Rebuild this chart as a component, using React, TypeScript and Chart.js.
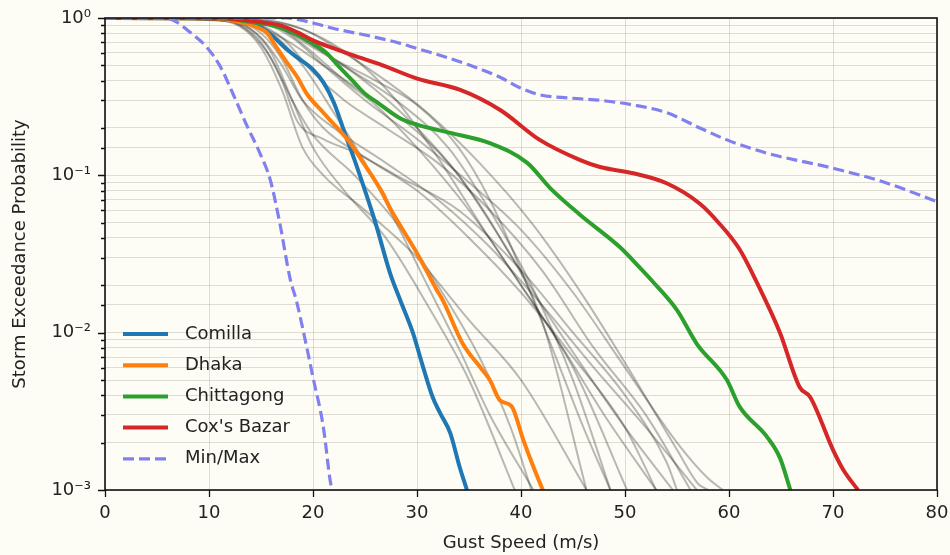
import React, { useEffect, useRef } from 'react';
import { Chart, registerables } from 'chart.js';

Chart.register(...registerables);

const FONT = "'DejaVu Sans', 'Liberation Sans', sans-serif";
const TEXT = '#222222';
const BG = '#fdfdf5';

// ---- data (gust speed m/s, exceedance probability) ----
const xTicks = [0, 10, 20, 30, 40, 50, 60, 70, 80];

const comillaSpeed = [0, 10, 12, 14.6, 16, 17.5, 18.5, 20, 21, 22, 23, 24, 25, 26, 27.4, 28.4, 29.6, 30.6, 31.5, 32.2, 33.2, 34.1, 34.8];
const comillaProb = [1, 0.995, 0.97, 0.9, 0.78, 0.63, 0.56, 0.47, 0.39, 0.29, 0.19, 0.125, 0.08, 0.05, 0.024, 0.016, 0.01, 0.006, 0.0039, 0.0031, 0.0023, 0.0014, 0.001];

const dhakaSpeed = [0, 10, 13, 14.5, 15.6, 16.5, 17.5, 18.5, 19.4, 21, 21.9, 23.6, 24.5, 26.7, 27.4, 30, 31.9, 32.5, 34.4, 36.1, 37, 38, 39.1, 40.2, 41.2, 42.1];
const dhakaProb = [1, 0.995, 0.94, 0.88, 0.8, 0.65, 0.52, 0.42, 0.33, 0.25, 0.215, 0.16, 0.13, 0.077, 0.062, 0.032, 0.0187, 0.016, 0.0085, 0.006, 0.005, 0.0037, 0.0034, 0.0021, 0.0014, 0.001];

const chittagongSpeed = [0, 11, 14.2, 16, 17.5, 19.5, 21.3, 22.5, 23.8, 25, 26.2, 28.4, 30, 33.2, 37, 40.6, 42.8, 45.7, 49.5, 51.4, 52.7, 55, 56.9, 59.8, 61, 63.6, 64.9, 65.9];
const chittagongProb = [1, 0.995, 0.94, 0.9, 0.84, 0.72, 0.6, 0.49, 0.4, 0.33, 0.29, 0.23, 0.21, 0.186, 0.16, 0.12, 0.083, 0.056, 0.035, 0.026, 0.021, 0.0139, 0.0085, 0.005, 0.0034, 0.0022, 0.0016, 0.001];

const coxsBazarSpeed = [0, 11, 13.3, 15, 16.8, 18.5, 20, 22, 23.8, 26.7, 30.1, 34.1, 38, 41.8, 45.7, 47.6, 50.8, 54, 57.2, 59, 61, 62.7, 64.9, 66.8, 67.8, 70, 71, 72.4];
const coxsBazarProb = [1, 0.998, 0.97, 0.94, 0.9, 0.81, 0.72, 0.64, 0.58, 0.5, 0.41, 0.35, 0.26, 0.168, 0.125, 0.113, 0.103, 0.089, 0.066, 0.05, 0.034, 0.0207, 0.01, 0.0045, 0.0039, 0.0018, 0.00134, 0.001];

const maxSpeed = [0, 17.5, 20, 21.9, 25.8, 28.4, 30, 32.2, 35.1, 38, 39.9, 41.8, 44.7, 47.6, 50.8, 54, 57.2, 59.8, 63.7, 70, 74.8, 80];
const maxProb = [1, 1, 0.93, 0.86, 0.76, 0.69, 0.64, 0.58, 0.5, 0.42, 0.36, 0.325, 0.31, 0.3, 0.28, 0.25, 0.2, 0.168, 0.138, 0.111, 0.091, 0.068];

const minSpeed = [0, 5.6, 6.8, 7.9, 9.8, 11.1, 12.3, 13.6, 14.9, 15.9, 16.8, 17.8, 18.4, 19.1, 20, 21, 21.7, 21.9];
const minProb = [1, 1, 0.95, 0.84, 0.65, 0.49, 0.33, 0.21, 0.138, 0.093, 0.05, 0.022, 0.016, 0.01, 0.0052, 0.0025, 0.0011, 0.001];

// other sites (grey curves): [speed, probability] pairs
const otherSiteCurves: [number, number][][] = [
  [[0, 1], [10, 0.98], [13, 0.9], [15, 0.7], [17, 0.4], [18.5, 0.22], [21, 0.17], [24, 0.14], [28, 0.1], [34, 0.06], [40, 0.025], [45, 0.01], [50, 0.004], [54, 0.0015], [55, 0.001]],
  [[0, 1], [10, 0.98], [13, 0.88], [15, 0.65], [17, 0.35], [19, 0.15], [21, 0.1], [25, 0.06], [30, 0.03], [35, 0.012], [40, 0.005], [46.3, 0.001]],
  [[0, 1], [11, 0.97], [14, 0.85], [16, 0.6], [18, 0.3], [20, 0.15], [23, 0.08], [27, 0.04], [31, 0.015], [35, 0.005], [39.4, 0.001]],
  [[0, 1], [12, 0.97], [15, 0.8], [17, 0.55], [19, 0.3], [21, 0.2], [25, 0.13], [30, 0.08], [35, 0.04], [40, 0.018], [45, 0.007], [50, 0.0025], [53, 0.001]],
  [[0, 1], [12, 0.98], [16, 0.8], [19, 0.5], [22, 0.25], [25, 0.12], [28, 0.05], [31, 0.02], [34, 0.008], [37, 0.003], [41.2, 0.001]],
  [[0, 1], [13, 0.98], [17, 0.85], [20, 0.6], [23, 0.4], [26, 0.28], [30, 0.15], [35, 0.06], [40, 0.02], [45, 0.006], [50.2, 0.001]],
  [[0, 1], [14, 0.97], [18, 0.8], [22, 0.55], [26, 0.35], [30, 0.2], [34, 0.1], [38, 0.04], [42, 0.015], [46, 0.006], [50, 0.0025], [54.6, 0.001]],
  [[0, 1], [14, 0.98], [19, 0.85], [24, 0.55], [28, 0.3], [32, 0.13], [36, 0.05], [40, 0.02], [44, 0.008], [48, 0.003], [53, 0.001]],
  [[0, 1], [13, 0.97], [17, 0.75], [21, 0.5], [25, 0.33], [30, 0.19], [34, 0.1], [38, 0.04], [42, 0.012], [46.3, 0.001]],
  [[0, 1], [14, 0.97], [17, 0.85], [20, 0.65], [24, 0.45], [28, 0.3], [33, 0.15], [37, 0.06], [41, 0.02], [45, 0.005], [48.6, 0.001]],
  [[0, 1], [13, 0.97], [17, 0.75], [20, 0.45], [23, 0.3], [27, 0.2], [32, 0.12], [37, 0.06], [42, 0.025], [47, 0.008], [52, 0.003], [56.3, 0.001]],
  [[0, 1], [12, 0.96], [15, 0.75], [17, 0.5], [19, 0.3], [22, 0.2], [27, 0.12], [32, 0.07], [37, 0.035], [42, 0.015], [47, 0.006], [52, 0.0025], [56.9, 0.001]],
  [[0, 1], [14, 0.97], [18, 0.75], [21, 0.5], [25, 0.3], [30, 0.17], [35, 0.09], [40, 0.045], [45, 0.018], [50, 0.006], [55, 0.002], [57.9, 0.0012], [59.4, 0.001]],
  [[0, 1], [15, 0.97], [19, 0.85], [23, 0.6], [27, 0.4], [31, 0.25], [36, 0.12], [41, 0.05], [46, 0.017], [51, 0.005], [55, 0.0018], [57, 0.0011], [58, 0.001]],
  [[0, 1], [12, 0.95], [14, 0.8], [16, 0.55], [18, 0.3], [20, 0.18], [24, 0.1], [28, 0.05], [32, 0.02], [36, 0.007], [39, 0.0025], [41, 0.001]],
  [[0, 1], [14, 0.97], [18, 0.8], [22, 0.55], [26, 0.4], [30, 0.28], [34, 0.15], [37, 0.07], [40, 0.025], [43, 0.008], [46, 0.0025], [48.6, 0.001]],
];

const legendItems = [
  { label: 'Comilla', color: '#1f77b4', dash: [] as number[] },
  { label: 'Dhaka', color: '#ff7f0e', dash: [] as number[] },
  { label: 'Chittagong', color: '#2ca02c', dash: [] as number[] },
  { label: "Cox's Bazar", color: '#d62728', dash: [] as number[] },
  { label: 'Min/Max', color: '#8080ee', dash: [11, 5] },
];

const pts = (xs: number[], ys: number[]) => xs.map((x, i) => ({ x, y: ys[i] }));
const isDecade = (v: number) => Math.abs(Math.log10(v) - Math.round(Math.log10(v))) < 1e-6;
const SUP: Record<string, string> = { '-': '⁻', '0': '⁰', '1': '¹', '2': '²', '3': '³', '4': '⁴' };
const decadeLabel = (v: number) => '10' + String(Math.round(Math.log10(v))).split('').map((c) => SUP[c] || c).join('');

const decorPlugin = {
  id: 'decor',
  beforeDraw(chart: any) {
    const { ctx, width, height } = chart;
    ctx.save();
    ctx.fillStyle = BG;
    ctx.fillRect(0, 0, width, height);
    ctx.restore();
  },
  afterDraw(chart: any) {
    const { ctx, chartArea: a, scales } = chart;
    ctx.save();
    // tick marks
    ctx.strokeStyle = '#111';
    ctx.lineWidth = 1.3;
    ctx.beginPath();
    scales.x.ticks.forEach((t: any) => {
      const px = Math.round(scales.x.getPixelForValue(t.value)) + 0.5;
      ctx.moveTo(px, a.bottom);
      ctx.lineTo(px, a.bottom + 7);
    });
    scales.y.ticks.forEach((t: any) => {
      const py = Math.round(scales.y.getPixelForValue(t.value)) + 0.5;
      const len = isDecade(t.value) ? 7 : 4;
      ctx.moveTo(a.left, py);
      ctx.lineTo(a.left - len, py);
    });
    ctx.stroke();
    // frame
    ctx.lineWidth = 1.6;
    ctx.strokeStyle = '#111';
    ctx.strokeRect(a.left, a.top, a.right - a.left, a.bottom - a.top);
    // legend
    const x0 = a.left + 18;
    const y0 = a.top + 316;
    const gap = 31.2;
    ctx.font = `18px ${FONT}`;
    ctx.textBaseline = 'middle';
    ctx.fillStyle = TEXT;
    legendItems.forEach((it, i) => {
      const y = y0 + i * gap;
      ctx.beginPath();
      ctx.strokeStyle = it.color;
      ctx.lineWidth = it.dash.length ? 3.2 : 4;
      ctx.setLineDash(it.dash);
      ctx.moveTo(x0, y);
      ctx.lineTo(x0 + 45, y);
      ctx.stroke();
      ctx.setLineDash([]);
      ctx.fillText(it.label, x0 + 62, y);
    });
    ctx.restore();
  },
};

export default function App() {
  const ref = useRef<HTMLCanvasElement>(null);
  useEffect(() => {
    if (!ref.current) return;
    const grey = otherSiteCurves.map((c) => ({
      label: '',
      data: c.map(([x, y]) => ({ x, y })),
      borderColor: 'rgba(0,0,0,0.27)',
      borderWidth: 2,
      order: 10,
    }));
    const main = [
      { label: 'Comilla', data: pts(comillaSpeed, comillaProb), borderColor: '#1f77b4', borderWidth: 4, order: 4 },
      { label: 'Dhaka', data: pts(dhakaSpeed, dhakaProb), borderColor: '#ff7f0e', borderWidth: 4, order: 3 },
      { label: 'Chittagong', data: pts(chittagongSpeed, chittagongProb), borderColor: '#2ca02c', borderWidth: 4, order: 2 },
      { label: "Cox's Bazar", data: pts(coxsBazarSpeed, coxsBazarProb), borderColor: '#d62728', borderWidth: 4, order: 1 },
      { label: 'Min', data: pts(minSpeed, minProb), borderColor: '#8080ee', borderWidth: 3.2, borderDash: [11, 5], order: 0 },
      { label: 'Max', data: pts(maxSpeed, maxProb), borderColor: '#8080ee', borderWidth: 3.2, borderDash: [11, 5], order: 0 },
    ];
    const chart = new Chart(ref.current, {
      type: 'line',
      data: {
        datasets: [...grey, ...main].map((d: any) => ({
          ...d,
          pointRadius: 0,
          fill: false,
          cubicInterpolationMode: 'monotone',
          borderCapStyle: 'butt',
          borderJoinStyle: 'round',
        })),
      },
      options: {
        animation: false,
        responsive: false,
        events: [],
        layout: { padding: { left: 0, right: 13, top: 18, bottom: 0 } },
        plugins: { legend: { display: false }, tooltip: { enabled: false } },
        scales: {
          x: {
            type: 'linear',
            min: 0,
            max: 80,
            afterBuildTicks: (s: any) => { s.ticks = xTicks.map((v) => ({ value: v })); },
            afterFit: (s: any) => { s.height = 65; s.paddingLeft = 0; s.paddingRight = 0; },
            grid: { color: 'rgba(150,135,125,0.28)', lineWidth: 1, drawTicks: false },
            border: { display: false },
            ticks: { color: TEXT, font: { family: FONT, size: 18 }, padding: 13, maxRotation: 0, autoSkip: false },
            title: { display: true, text: 'Gust Speed (m/s)', color: TEXT, font: { family: FONT, size: 18 }, padding: { top: 0, bottom: 1 } },
          },
          y: {
            type: 'logarithmic',
            min: 0.001,
            max: 1,
            afterFit: (s: any) => { s.width = 105; s.paddingTop = 0; s.paddingBottom = 0; },
            grid: { color: 'rgba(150,135,125,0.28)', lineWidth: 1, drawTicks: false },
            border: { display: false },
            ticks: {
              color: TEXT,
              font: { family: FONT, size: 18 },
              padding: 14,
              autoSkip: false,
              callback: (v: any) => (isDecade(Number(v)) ? decadeLabel(Number(v)) : ''),
            },
            title: { display: true, text: 'Storm Exceedance Probability', color: TEXT, font: { family: FONT, size: 18 }, padding: { top: 10, bottom: 0 } },
          },
        },
      } as any,
      plugins: [decorPlugin],
    });
    return () => chart.destroy();
  }, []);
  return (
    <div style={{ position: 'fixed', left: 0, top: 0, width: 950, height: 555, background: BG }}>
      <canvas ref={ref} width={950} height={555} style={{ display: 'block' }} />
    </div>
  );
}
